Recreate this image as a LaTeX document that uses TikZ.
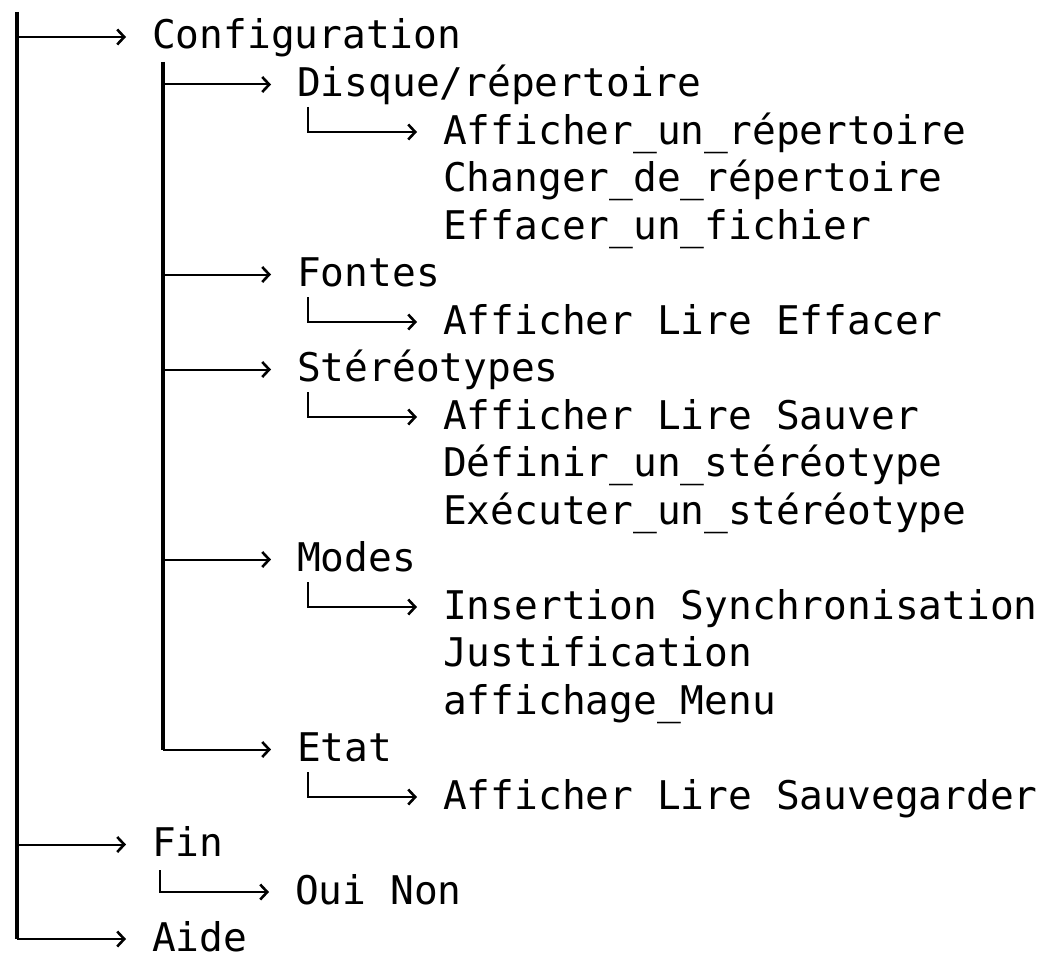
\documentclass[tikz,border=0pt]{standalone}
\usepackage{fontspec}
\setmonofont{DejaVu Sans Mono}
\usetikzlibrary{arrows.meta}
\begin{document}
\begin{tikzpicture}[x=1pt,y=-1pt,
  lbl/.style={anchor=west, inner xsep=26pt, inner ysep=0pt, text height=24pt, text depth=0pt,
    font=\ttfamily\fontsize{39.5}{47.5}\selectfont},
  conn/.style={line width=2pt, -{Straight Barb[length=7pt,width=15pt,line width=2.6pt]}},
  trunk/.style={line width=3.5pt},
]
\useasboundingbox (0,0) rectangle (1048,955);
% level 1
\node[lbl] (config) at (126,37) {Configuration};
\node[lbl] (fin) at (126,844.5) {Fin};
\node[lbl] (aide) at (126,939) {Aide};
% level 2
\node[lbl] (disque) at (271,84.5) {Disque/répertoire};
\node[lbl] (fontes) at (271,274.5) {Fontes};
\node[lbl] (stereo) at (271,369.5) {Stéréotypes};
\node[lbl] (modes) at (271,559.5) {Modes};
\node[lbl] (etat) at (271,749.5) {Etat};
% level 3
\node[lbl] (d1) at (417,132) {Afficher\_un\_répertoire};
\node[lbl] (d2) at (417,179.5) {Changer\_de\_répertoire};
\node[lbl] (d3) at (417,227) {Effacer\_un\_fichier};
\node[lbl] (f1) at (417,322) {Afficher Lire Effacer};
\node[lbl] (s1) at (417,417) {Afficher Lire Sauver};
\node[lbl] (s2) at (417,464.5) {Définir\_un\_stéréotype};
\node[lbl] (s3) at (417,512) {Exécuter\_un\_stéréotype};
\node[lbl] (m1) at (417,607) {Insertion Synchronisation};
\node[lbl] (m2) at (417,654.5) {Justification};
\node[lbl] (m3) at (417,702) {affichage\_Menu};
\node[lbl] (e1) at (417,797) {Afficher Lire Sauvegarder};
\node[lbl] (o1) at (269,892) {Oui Non};
% trunks
\coordinate (t1) at (17,12);
\coordinate (t2) at (163,62);
\draw[trunk] (t1) -- (t1 |- aide.west);
\draw[conn] (t1 |- aide.west) -- (aide.west);
\draw[conn] (t1 |- config.west) -- (config.west);
\draw[conn] (t1 |- fin.west) -- (fin.west);
\draw[trunk] (t2) -- (t2 |- etat.west);
\draw[conn] (t2 |- etat.west) -- (etat.west);
\draw[conn] (t2 |- disque.west) -- (disque.west);
\draw[conn] (t2 |- fontes.west) -- (fontes.west);
\draw[conn] (t2 |- stereo.west) -- (stereo.west);
\draw[conn] (t2 |- modes.west) -- (modes.west);
% sub L connectors
\coordinate (ld) at (308,107);
\coordinate (lf) at (308,297);
\coordinate (ls) at (308,392);
\coordinate (lm) at (308,582);
\coordinate (le) at (308,772);
\coordinate (lo) at (160,870);
\draw[conn] (ld) |- (d1.west);
\draw[conn] (lf) |- (f1.west);
\draw[conn] (ls) |- (s1.west);
\draw[conn] (lm) |- (m1.west);
\draw[conn] (le) |- (e1.west);
\draw[conn] (lo) |- (o1.west);
\end{tikzpicture}
\end{document}
